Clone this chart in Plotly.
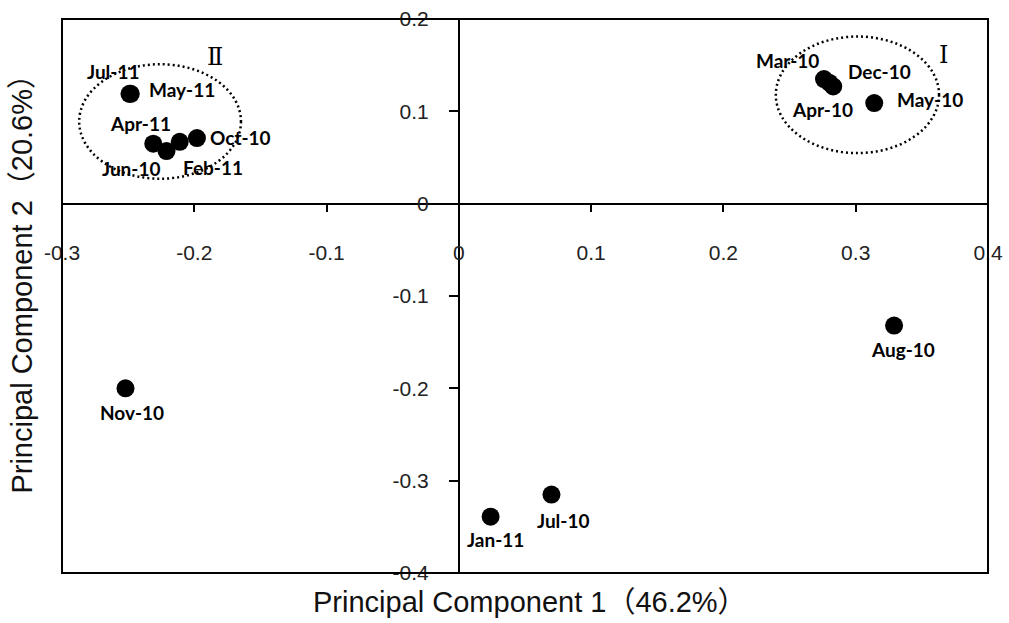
import plotly.graph_objects as go

# ---- data ----
months = ["Jul-11", "May-11", "Apr-11", "Jun-10", "Feb-11", "Oct-10",
          "Mar-10", "Apr-10", "Dec-10", "May-10",
          "Nov-10", "Aug-10", "Jan-11", "Jul-10"]
pc1 = [-0.249, -0.248, -0.231, -0.221, -0.211, -0.198,
       0.276, 0.280, 0.283, 0.314,
       -0.252, 0.329, 0.024, 0.070]
pc2 = [0.119, 0.119, 0.065, 0.057, 0.067, 0.071,
       0.135, 0.131, 0.127, 0.109,
       -0.200, -0.132, -0.339, -0.315]

x_ticks = [-0.3, -0.2, -0.1, 0, 0.1, 0.2, 0.3, 0.4]
x_tick_labels = ["-0.3", "-0.2", "-0.1", "0", "0.1", "0.2", "0.3", "0.4"]
y_ticks = [-0.4, -0.3, -0.2, -0.1, 0, 0.1, 0.2]
y_tick_labels = ["-0.4", "-0.3", "-0.2", "-0.1", "0", "0.1", "0.2"]

# group ellipses (data coordinates: x0, x1, y0, y1) and their numerals
group_names = ["Ⅰ", "Ⅱ"]
group_bounds = [[0.2396, 0.363, 0.0548, 0.181], [-0.287, -0.1647, 0.027, 0.151]]
group_label_pos = [[0.3665, 0.161], [-0.1844, 0.159]]

x_title = "Principal Component 1（46.2%）"
y_title = "Principal Component 2（20.6%）"

# ---- styling ----
label_offsets = {  # pixel offsets of each label centre from its point
    "Jul-11": (-16, -22), "May-11": (51, -4), "Apr-11": (-13, -20),
    "Jun-10": (-36, 17), "Feb-11": (33, 26), "Oct-10": (44, -1),
    "Mar-10": (-36, -19), "Apr-10": (-7, 27), "Dec-10": (46, -15),
    "May-10": (56, -4), "Nov-10": (6, 24), "Aug-10": (9, 24),
    "Jan-11": (5, 23), "Jul-10": (12, 26),
}
AX_FONT = "Liberation Sans, Arial, Noto Sans CJK JP, sans-serif"
LBL_FONT = "Lato, Carlito, Open Sans, sans-serif"

x_range = [-0.3, 0.4]
y_range = [-0.4, 0.2]

fig = go.Figure()
fig.add_trace(go.Scatter(
    x=pc1, y=pc2, mode="markers",
    marker=dict(size=18, color="black", line=dict(width=0)),
    hoverinfo="text", text=months, showlegend=False,
))

for m, xv, yv in zip(months, pc1, pc2):
    dx, dy = label_offsets[m]
    fig.add_annotation(x=xv, y=yv, xref="x", yref="y", text="<b>" + m + "</b>",
                       showarrow=False, xshift=dx, yshift=-dy,
                       font=dict(family=LBL_FONT, size=19, color="black"))

for (x0, x1, y0, y1) in group_bounds:
    fig.add_shape(type="circle", xref="x", yref="y", x0=x0, x1=x1, y0=y0, y1=y1,
                  line=dict(color="black", width=2.5, dash="2px,3px"))

for name, (gx, gy) in zip(group_names, group_label_pos):
    fig.add_annotation(x=gx, y=gy, xref="x", yref="y", text=name, showarrow=False,
                       font=dict(family="DejaVu Serif, serif", size=24, color="black"))

# frame
fig.add_shape(type="rect", xref="paper", yref="paper", x0=0, x1=1, y0=0, y1=1,
              line=dict(color="black", width=2), layer="above")

# axis titles
fig.add_annotation(xref="paper", yref="paper", x=0.5049, y=0, yshift=-29,
                   text=x_title, showarrow=False, yanchor="middle",
                   font=dict(family=AX_FONT, size=29, color="#111"))
fig.add_annotation(xref="paper", yref="paper", x=0, xshift=-40, y=0.535,
                   text=y_title, showarrow=False, textangle=-90, xanchor="center",
                   font=dict(family=AX_FONT, size=29, color="#111"))

x_pos = (0 - y_range[0]) / (y_range[1] - y_range[0])
y_pos = (0 - x_range[0]) / (x_range[1] - x_range[0])

fig.update_layout(
    width=1009, height=623,
    margin=dict(l=62, r=21, t=19, b=50),
    plot_bgcolor="white", paper_bgcolor="white",
    xaxis=dict(range=x_range, anchor="free", position=x_pos,
               tickmode="array", tickvals=x_ticks, ticktext=x_tick_labels,
               showline=True, linecolor="black", linewidth=2,
               ticks="outside", ticklen=7, tickwidth=2, tickcolor="black",
               ticklabelstandoff=23, showgrid=False, zeroline=False,
               tickfont=dict(family=AX_FONT, size=21, color="#222"),
               automargin=False, fixedrange=True),
    yaxis=dict(range=y_range, anchor="free", position=y_pos,
               tickmode="array", tickvals=y_ticks, ticktext=y_tick_labels,
               showline=True, linecolor="black", linewidth=2,
               ticks="outside", ticklen=9, tickwidth=2, tickcolor="black",
               ticklabelstandoff=16, showgrid=False, zeroline=False,
               tickfont=dict(family=AX_FONT, size=21, color="#222"),
               automargin=False, fixedrange=True),
)

fig.write_html("out.html")
